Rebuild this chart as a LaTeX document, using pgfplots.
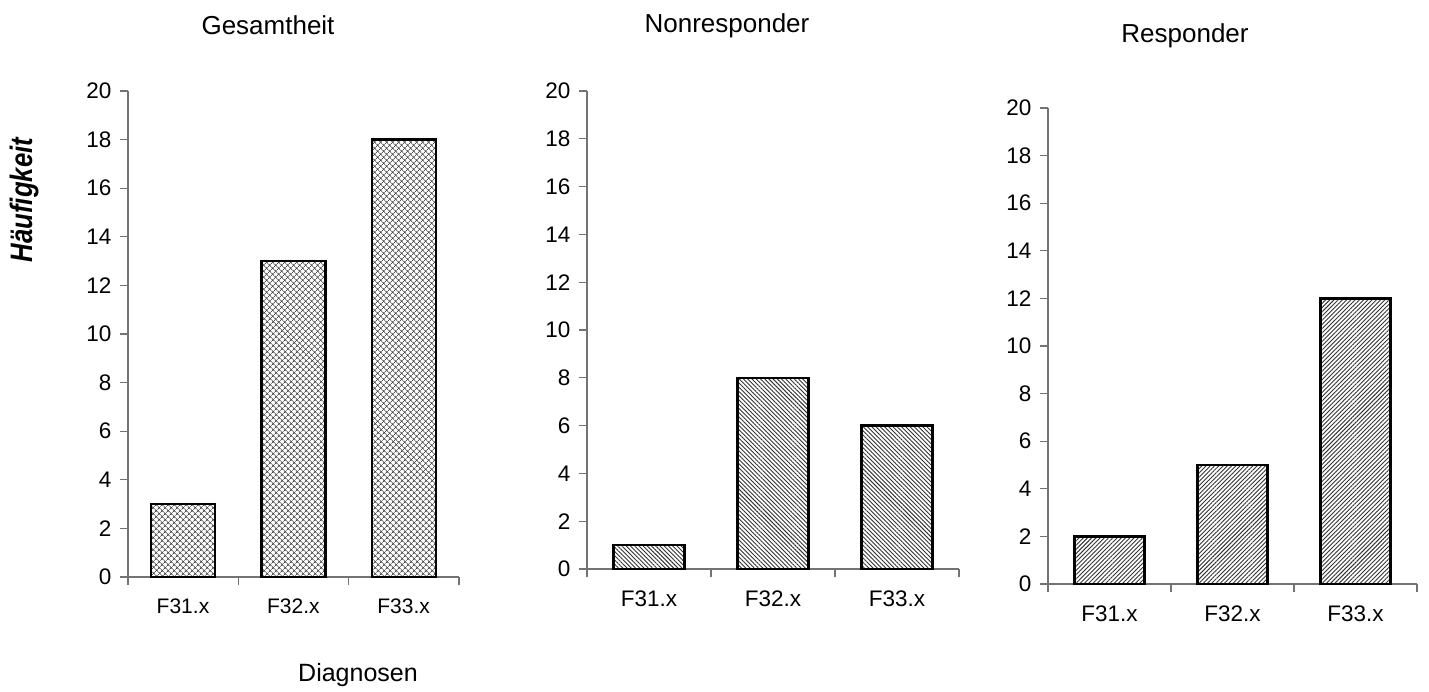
\documentclass[border=0pt]{standalone}
\usepackage{fontspec}
\setmainfont{Liberation Sans}
\usepackage{pgfplots}
\pgfplotsset{compat=1.18}
\usetikzlibrary{patterns.meta}
\pgfplotsset{
  myaxis/.style={
    scale only axis,
    anchor=south west,
    axis lines=left,
    axis line style={-, draw=black!55, line width=1.3pt},
    tick style={draw=black!55, line width=1.3pt},
    tick align=outside,
    major tick length=8pt,
    ymin=0, ymax=20, ytick={0,2,...,20},
    xmin=-0.5, xmax=2.5,
    xtick={-0.5,0.5,1.5,2.5},
    xticklabels={F31.x,F32.x,F33.x,{}},
    /pgf/number format/assume math mode=true,
    yticklabel style={font=\fontsize{22.5pt}{26pt}\selectfont, xshift=-5pt},
    xticklabel style={font=\fontsize{21pt}{25pt}\selectfont, yshift=-10pt},
    ybar,
    clip=false,
  },
  mybar/.style={draw=black, line width=2.4pt},
}
\begin{document}
\begin{tikzpicture}
\path[use as bounding box] (0,0) rectangle (1429pt,692pt);
% Gesamtheit
\begin{axis}[myaxis, at={(128pt,115pt)}, width=331pt, height=486pt,
  bar width=0.58, xticklabel style={xshift=55pt}]
\addplot[mybar, pattern={Hatch[angle=45,distance=4pt,line width=0.8pt]}, pattern color=black!70]
  coordinates {(0,3) (1,13) (2,18)};
\end{axis}
% Nonresponder
\begin{axis}[myaxis, at={(587pt,123pt)}, width=372pt, height=478pt,
  bar width=0.57, xticklabel style={xshift=62pt, font=\fontsize{22.5pt}{26pt}\selectfont}]
\addplot[mybar, pattern={Lines[angle=-45,distance=3pt,line width=0.9pt]}, pattern color=black!80]
  coordinates {(0,1) (1,8) (2,6)};
\end{axis}
% Responder
\begin{axis}[myaxis, at={(1048pt,108pt)}, width=369pt, height=476pt,
  bar width=0.57, xticklabel style={xshift=61.5pt, font=\fontsize{22.5pt}{26pt}\selectfont}]
\addplot[mybar, pattern={Lines[angle=45,distance=3pt,line width=0.9pt]}, pattern color=black!80]
  coordinates {(0,2) (1,5) (2,12)};
\end{axis}
\node[font=\fontsize{26pt}{30pt}\selectfont] at (268pt,667pt) {Gesamtheit};
\node[font=\fontsize{26pt}{30pt}\selectfont] at (727pt,666pt) {Nonresponder};
\node[font=\fontsize{26pt}{30pt}\selectfont] at (1185pt,656pt) {Responder};
\node[font=\fontsize{25pt}{30pt}\selectfont] at (358pt,17pt) {Diagnosen};
\node[rotate=90, font=\fontsize{31pt}{34pt}\selectfont\bfseries\itshape] at (24pt,492pt) {\scalebox{0.83}[1]{Häufigkeit}};
\end{tikzpicture}
\end{document}
